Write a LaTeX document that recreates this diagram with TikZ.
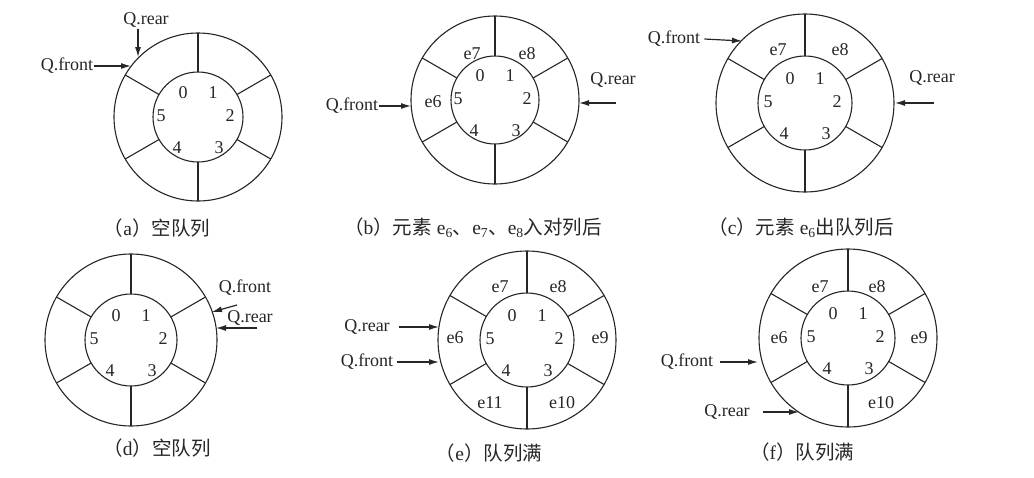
\documentclass[tikz,border=0pt]{standalone}
\usepackage{fontspec}
\setmainfont{Liberation Serif}
\newfontfamily\cjk{Noto Sans CJK SC}
\usetikzlibrary{arrows.meta,calc}
\newcommand\zh[1]{{\cjk #1}}
\newcommand\myring[5]{%
  \coordinate (#1) at (#2,#3);
  \draw[ringline] (#1) circle[radius=#4];
  \draw[ringline] (#1) circle[radius=#5];
  \foreach \a in {30,90,150,210,270,330}
    \draw[ringline] ($(#1)+(\a:#5)$) -- ($(#1)+(\a:#4)$);
}
\newcommand\nums[1]{%
  \node[lbl] (#1n0) at ($(#1)+(-15,-24)$) {0};
  \node[lbl] (#1n1) at ($(#1)+(15,-24)$) {1};
  \node[lbl] (#1n2) at ($(#1)+(32,-1)$) {2};
  \node[lbl] (#1n3) at ($(#1)+(21,31)$) {3};
  \node[lbl] (#1n4) at ($(#1)+(-21,31)$) {4};
  \node[lbl] (#1n5) at ($(#1)+(-37,-1)$) {5};
}
\tikzset{
  ringline/.style={line width=1.1pt, draw=black!85},
  lbl/.style={font=\fontsize{18}{19}\selectfont, inner sep=0pt, text=black!85},
  qlbl/.style={font=\fontsize{18}{19}\selectfont, inner sep=1pt, text=black!85},
  captxt/.style={font=\fontsize{19.5}{21}\selectfont, inner sep=0pt, text=black!85},
  qarrow/.style={line width=1.2pt, draw=black!85, -{Latex[length=10pt,width=6pt]}},
}
\begin{document}
\begin{tikzpicture}[x=1pt,y=-1pt]
\fill[white] (0,0) rectangle (1034,477);
\useasboundingbox (0,0) rectangle (1034,477);

% ---------- (a)
\myring{A}{198}{117}{84}{45}
\nums{A}
\node[qlbl] (Ar) at (146,20) {Q.rear};
\node[qlbl] (Af) at (67,66) {Q.front};
\coordinate (Ar-t) at (138,57);
\coordinate (Af-t) at (131,66);
\draw[qarrow] (Ar.south -| Ar-t) -- (Ar-t);
\draw[qarrow] (Af.east) -- (Af-t);
\node[captxt] (capA) at (157,228) {\zh{（}a\zh{）空队列}};

% ---------- (b)
\myring{B}{495}{100}{84}{44}
\nums{B}
\node[lbl] (Be7) at ($(B)+(-23,-46)$) {e7};
\node[lbl] (Be8) at ($(B)+(32,-46)$) {e8};
\node[lbl] (Be6) at ($(B)+(-62,2)$) {e6};
\node[qlbl] (Bf) at (352,106) {Q.front};
\node[qlbl] (Br) at (613,80) {Q.rear};
\coordinate (Bf-t) at (411,106);
\coordinate (Br-s) at (616,103);
\coordinate (Br-t) at (579,103);
\draw[qarrow] (Bf.east) -- (Bf-t);
\draw[qarrow] (Br-s) -- (Br-t);
\node[captxt] (capB) at (473,228) {\zh{（}b\zh{）元素} e\textsubscript{6}\zh{、}e\textsubscript{7}\zh{、}e\textsubscript{8}\zh{入对列后}};

% ---------- (c)
\myring{C}{805}{103}{89}{47}
\nums{C}
\node[lbl] (Ce7) at ($(C)+(-27,-53)$) {e7};
\node[lbl] (Ce8) at ($(C)+(35,-53)$) {e8};
\node[qlbl] (Cf) at (674,39) {Q.front};
\node[qlbl] (Cr) at (932,78) {Q.rear};
\coordinate (Cf-t) at (742,41);
\coordinate (Cr-s) at (934,103);
\coordinate (Cr-t) at (895,103);
\draw[qarrow] ($(Cf.east)+(3,0)$) -- (Cf-t);
\draw[qarrow] (Cr-s) -- (Cr-t);
\node[captxt] (capC) at (801,228) {\zh{（}c\zh{）元素} e\textsubscript{6}\zh{出队列后}};

% ---------- (d)
\myring{D}{131}{340}{86}{46}
\nums{D}
\node[qlbl] (Df) at (245,288) {Q.front};
\node[qlbl] (Dr) at (250,318) {Q.rear};
\coordinate (Df-s) at (237,305);
\coordinate (Df-t) at (212,312);
\coordinate (Dr-s) at (257,328);
\coordinate (Dr-t) at (216,328);
\draw[qarrow] (Df-s) -- (Df-t);
\draw[qarrow] (Dr-s) -- (Dr-t);
\node[captxt] (capD) at (157,448) {\zh{（}d\zh{）空队列}};

% ---------- (e)
\myring{E}{527}{340}{89}{47}
\nums{E}
\node[lbl] (Ee7) at ($(E)+(-27,-53)$) {e7};
\node[lbl] (Ee8) at ($(E)+(31,-53)$) {e8};
\node[lbl] (Ee9) at ($(E)+(73,-2)$) {e9};
\node[lbl] (Ee10) at ($(E)+(35,63)$) {e10};
\node[lbl] (Ee11) at ($(E)+(-37,63)$) {e11};
\node[lbl] (Ee6) at ($(E)+(-72,-2)$) {e6};
\node[qlbl] (Er) at (367,327) {Q.rear};
\node[qlbl] (Ef) at (367,362) {Q.front};
\coordinate (Er-t) at (439,327);
\coordinate (Ef-t) at (439,362);
\draw[qarrow] ($(Er.east)+(8,0)$) -- (Er-t);
\draw[qarrow] ($(Ef.east)+(3,0)$) -- (Ef-t);
\node[captxt] (capE) at (489,453) {\zh{（}e\zh{）队列满}};

% ---------- (f)
\myring{F}{848}{338}{89}{47}
\nums{F}
\node[lbl] (Fe7) at ($(F)+(-28,-51)$) {e7};
\node[lbl] (Fe8) at ($(F)+(29,-51)$) {e8};
\node[lbl] (Fe9) at ($(F)+(71,0)$) {e9};
\node[lbl] (Fe10) at ($(F)+(33,65)$) {e10};
\node[lbl] (Fe6) at ($(F)+(-69,0)$) {e6};
\node[qlbl] (Ff) at (687,362) {Q.front};
\node[qlbl] (Fr) at (727,412) {Q.rear};
\coordinate (Ff-t) at (758,362);
\coordinate (Fr-t) at (799,412);
\draw[qarrow] ($(Ff.east)+(6,0)$) -- (Ff-t);
\draw[qarrow] ($(Fr.east)+(12,0)$) -- (Fr-t);
\node[captxt] (capF) at (802,452) {\zh{（}f\zh{）队列满}};
\end{tikzpicture}
\end{document}
